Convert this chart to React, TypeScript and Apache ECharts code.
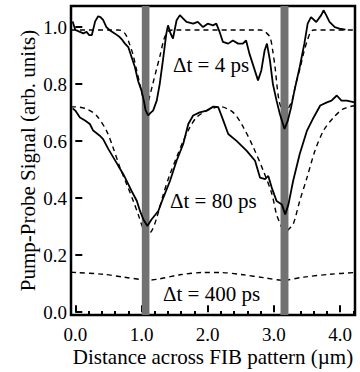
import React, { useEffect, useRef } from "react";
import * as echarts from "echarts";

const FONT = "'Liberation Serif', 'Times New Roman', serif";

const xMajorTicks = [0, 1, 2, 3, 4];
const xMinorTicks = [0.2, 0.4, 0.6, 0.8, 1.2, 1.4, 1.6, 1.8, 2.2, 2.4, 2.6, 2.8, 3.2, 3.4, 3.6, 3.8, 4.2];
const yTicks = [0, 0.2, 0.4, 0.6, 0.8, 1.0];

// FIB pattern lines (shaded bands), x ranges in µm
const bands: [number, number][] = [
  [1.005, 1.12],
  [3.1, 3.22],
];

const measured4ps: [number, number][] = [
  [-0.04, 1.02], [0.0, 0.99], [0.07, 0.983], [0.12, 0.978], [0.17, 0.983], [0.21, 0.972],
  [0.25, 0.972], [0.3, 1.02], [0.345, 1.038], [0.38, 1.035], [0.42, 1.025], [0.47, 1.0],
  [0.52, 0.989], [0.6, 0.977], [0.67, 0.965], [0.71, 0.955], [0.75, 0.942], [0.8, 0.93],
  [0.85, 0.895], [0.9, 0.86], [0.95, 0.81], [1.0, 0.777], [1.035, 0.742], [1.06, 0.71],
  [1.1, 0.69], [1.14, 0.7], [1.175, 0.707], [1.23, 0.742], [1.275, 0.8], [1.33, 0.895],
  [1.375, 0.977], [1.4, 1.006], [1.44, 0.977], [1.475, 0.96], [1.5, 0.989], [1.53, 1.024],
  [1.58, 1.042], [1.63, 1.03], [1.68, 1.018], [1.78, 1.012], [1.85, 1.018], [1.93, 1.0],
  [2.0, 1.012], [2.08, 1.006], [2.13, 1.012], [2.18, 0.983], [2.23, 0.948], [2.31, 0.942],
  [2.38, 0.953], [2.46, 0.942], [2.53, 0.942], [2.58, 0.953], [2.63, 0.907], [2.68, 0.871],
  [2.76, 0.813], [2.81, 0.848], [2.86, 0.918], [2.895, 0.942], [2.94, 0.883], [2.985, 0.8],
  [3.04, 0.742], [3.09, 0.695], [3.16, 0.643], [3.21, 0.672], [3.26, 0.719], [3.31, 0.777],
  [3.39, 0.86], [3.46, 0.942], [3.51, 1.012], [3.56, 1.035], [3.64, 1.018], [3.715, 1.042],
  [3.75, 1.059], [3.79, 1.042], [3.84, 1.018], [3.92, 1.0], [3.99, 0.995], [4.08, 0.991],
];

const model4ps: [number, number][] = [
  [-0.065, 0.99], [0.5, 0.99], [0.65, 0.99], [0.72, 0.985], [0.77, 0.97], [0.82, 0.94],
  [0.87, 0.905], [0.92, 0.855], [0.975, 0.8], [1.03, 0.745], [1.07, 0.71], [1.11, 0.745],
  [1.17, 0.8], [1.23, 0.855], [1.28, 0.9], [1.33, 0.95], [1.37, 0.975], [1.42, 0.988],
  [1.5, 0.99], [2.8, 0.99], [2.86, 0.985], [2.94, 0.965], [2.98, 0.92], [3.017, 0.86],
  [3.08, 0.74], [3.16, 0.7], [3.27, 0.74], [3.33, 0.8], [3.4, 0.86], [3.45, 0.91],
  [3.5, 0.95], [3.55, 0.98], [3.6, 0.99], [4.225, 0.99],
];

const measured80ps: [number, number][] = [
  [-0.04, 0.715], [0.0, 0.707], [0.07, 0.683], [0.147, 0.672], [0.22, 0.66], [0.27, 0.637],
  [0.37, 0.619], [0.42, 0.607], [0.5, 0.572], [0.574, 0.543], [0.65, 0.513], [0.725, 0.484],
  [0.8, 0.449], [0.85, 0.425], [0.93, 0.39], [0.977, 0.355], [1.027, 0.326], [1.088, 0.302],
  [1.154, 0.326], [1.254, 0.355], [1.33, 0.402], [1.43, 0.46], [1.53, 0.531], [1.63, 0.59],
  [1.707, 0.66], [1.78, 0.69], [1.88, 0.701], [1.985, 0.707], [2.085, 0.721], [2.16, 0.719],
  [2.236, 0.672], [2.31, 0.625], [2.44, 0.6], [2.59, 0.566], [2.715, 0.531], [2.79, 0.472],
  [2.866, 0.467], [2.915, 0.478], [2.967, 0.437], [3.04, 0.39], [3.12, 0.378], [3.17, 0.343],
  [3.22, 0.378], [3.29, 0.46], [3.39, 0.555], [3.5, 0.637], [3.6, 0.683], [3.7, 0.725],
  [3.8, 0.736], [3.87, 0.742], [3.95, 0.76], [4.02, 0.742], [4.1, 0.742], [4.22, 0.736],
];

const model80ps: [number, number][] = [
  [-0.065, 0.72], [0.0, 0.72], [0.17, 0.713], [0.32, 0.69], [0.47, 0.637], [0.57, 0.578],
  [0.675, 0.507], [0.776, 0.449], [0.876, 0.39], [0.95, 0.343], [1.0, 0.308], [1.05, 0.279],
  [1.08, 0.272], [1.154, 0.285], [1.23, 0.331], [1.33, 0.414], [1.43, 0.484], [1.53, 0.543],
  [1.63, 0.6], [1.73, 0.648], [1.83, 0.683], [1.985, 0.707], [2.136, 0.719], [2.186, 0.721],
  [2.387, 0.7], [2.54, 0.648], [2.69, 0.578], [2.84, 0.496], [2.97, 0.414], [3.04, 0.343],
  [3.12, 0.296], [3.165, 0.268], [3.22, 0.29], [3.29, 0.308], [3.39, 0.39], [3.5, 0.472],
  [3.62, 0.566], [3.75, 0.637], [3.9, 0.683], [4.05, 0.713], [4.225, 0.725],
];

const model400ps: [number, number][] = [
  [-0.065, 0.14], [0.0, 0.139], [0.42, 0.133], [0.725, 0.123], [1.03, 0.113], [1.08, 0.112],
  [1.23, 0.115], [1.58, 0.131], [1.93, 0.139], [2.19, 0.139], [2.54, 0.131], [2.84, 0.121],
  [3.14, 0.112], [3.45, 0.123], [3.85, 0.133], [4.225, 0.139],
];

const labels = ["\u0394t = 4 ps", "\u0394t = 80 ps", "\u0394t = 400 ps"];

const X_MIN = -0.065;
const X_MAX = 4.225;
const Y_MIN = -0.01;
const Y_MAX = 1.074;

export default function App() {
  const ref = useRef<HTMLDivElement>(null);

  useEffect(() => {
    document.body.style.margin = "0";
    if (!ref.current) return;
    const chart = echarts.init(ref.current, null, { renderer: "svg" });

    const solid = (data: [number, number][]) => ({
      type: "line",
      data,
      showSymbol: false,
      symbol: "none",
      z: 4,
      lineStyle: { color: "#000", width: 1.8 },
      animation: false,
    });
    const dashed = (data: [number, number][]) => ({
      type: "line",
      data,
      showSymbol: false,
      symbol: "none",
      smooth: 0.3,
      z: 1,
      lineStyle: { color: "#000", width: 1.4, type: [5, 4] },
      animation: false,
    });

    const textStyleBase = { fontFamily: FONT, fill: "#000" };

    chart.setOption({
      animation: false,
      textStyle: { fontFamily: FONT },
      grid: {
        left: 71,
        top: 6,
        right: 5,
        bottom: 57,
        show: true,
        borderColor: "#000",
        borderWidth: 2.5,
        backgroundColor: "#fff",
      },
      xAxis: [
        {
          type: "value",
          min: X_MIN,
          max: X_MAX,
          position: "bottom",
          axisLine: { show: false },
          splitLine: { show: false },
          axisTick: {
            show: true,
            inside: true,
            length: 7,
            customValues: xMajorTicks,
            lineStyle: { color: "#000", width: 2 },
          },
          axisLabel: {
            customValues: xMajorTicks,
            formatter: (v: number) => v.toFixed(1),
            fontFamily: FONT,
            fontSize: 19,
            color: "#000",
            margin: 10,
          },
          name: "Distance across FIB pattern (\u00b5m)",
          nameLocation: "middle",
          nameGap: 31,
          nameMoveOverlap: false,
          nameTextStyle: { fontFamily: FONT, fontSize: 21, color: "#000" },
        },
        {
          type: "value",
          min: X_MIN,
          max: X_MAX,
          position: "bottom",
          offset: 0,
          axisLine: { show: false },
          splitLine: { show: false },
          axisLabel: { show: false },
          axisTick: {
            show: true,
            inside: true,
            length: 4,
            customValues: xMinorTicks,
            lineStyle: { color: "#000", width: 2 },
          },
        },
      ],
      yAxis: {
        type: "value",
        min: Y_MIN,
        max: Y_MAX,
        axisLine: { show: false },
        splitLine: { show: false },
        axisTick: {
          show: true,
          inside: true,
          length: 7,
          customValues: yTicks,
          lineStyle: { color: "#000", width: 2 },
        },
        axisLabel: {
          customValues: yTicks,
          formatter: (v: number) => v.toFixed(1),
          fontFamily: FONT,
          fontSize: 19,
          color: "#000",
          margin: 4,
        },
        name: "Pump-Probe Signal (arb. units)",
        nameLocation: "middle",
        nameGap: 33,
        nameMoveOverlap: false,
        nameTextStyle: { fontFamily: FONT, fontSize: 21, color: "#000" },
      },
      series: [
        dashed(model4ps),
        dashed(model80ps),
        dashed(model400ps),
        {
          type: "line",
          data: [],
          z: 2,
          markArea: {
            silent: true,
            z: 2,
            itemStyle: { color: "#727272" },
            data: bands.map(([a, b]) => [{ xAxis: a }, { xAxis: b }]),
          },
        },
        solid(measured4ps),
        solid(measured80ps),
      ],
      graphic: [
        { type: "text", left: 173, top: 54, style: { ...textStyleBase, text: labels[0], fontSize: 21 } },
        { type: "text", left: 170, top: 190, style: { ...textStyleBase, text: labels[1], fontSize: 21 } },
        { type: "text", left: 163, top: 283, style: { ...textStyleBase, text: labels[2], fontSize: 21 } },
      ],
    });

    return () => chart.dispose();
  }, []);

  return <div ref={ref} style={{ width: 360, height: 372 }} />;
}
